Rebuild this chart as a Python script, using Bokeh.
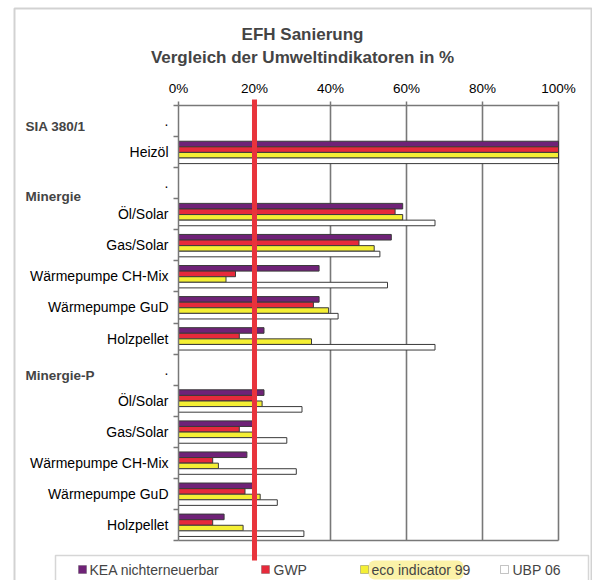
from bokeh.plotting import figure
from bokeh.models import Range1d, FixedTicker, Label, BoxAnnotation
from bokeh.embed import file_html
from bokeh.resources import INLINE

# ---------------- data ----------------
rows = [".", "Heizöl", ".", "Öl/Solar", "Gas/Solar", "Wärmepumpe CH-Mix",
        "Wärmepumpe GuD", "Holzpellet", ".", "Öl/Solar", "Gas/Solar",
        "Wärmepumpe CH-Mix", "Wärmepumpe GuD", "Holzpellet"]
headers = ["SIA 380/1", "Minergie", "Minergie-P"]
series_names = ["KEA nichterneuerbar", "GWP", "eco indicator 99", "UBP 06"]
kea = [None, 100, None, 59, 56, 37, 37, 22.5, None, 22.5, 19.5, 18, 19.5, 12]
gwp = [None, 100, None, 57, 47.5, 15, 35.5, 16, None, 19.5, 16, 9, 17.5, 9]
eco = [None, 100, None, 59, 51.5, 12.5, 39.5, 35, None, 22, 20, 10.5, 21.5, 17]
ubp = [None, 100, None, 67.5, 53, 55, 42, 67.5, None, 32.5, 28.5, 31, 26, 33]
x_ticks = [0, 20, 40, 60, 80, 100]
x_tick_labels = ["0%", "20%", "40%", "60%", "80%", "100%"]
target = 20

# ---------------- layout / style ----------------
W, H = 592, 580
FL, FR, FT, FB = 178, 558, 105, 540      # plot area in page pixels
NROW = len(rows)
XMIN, XMAX = x_ticks[0], x_ticks[-1]
YTOP, YBOT = -0.5, NROW - 0.5
FONT = "Liberation Sans"
GRID = "#787878"
EDGE = "#3a3a3a"
colors = ["#6f2277", "#e62a3b", "#f4ef34", "#ffffff"]
offsets = [-0.26, -0.08, 0.10, 0.28]
bar_h = 0.18


def fx(px):
    return XMIN + (px - FL) / (FR - FL) * (XMAX - XMIN)


def fy(py):
    return YTOP + (py - FT) / (FB - FT) * (YBOT - YTOP)


p = figure(width=W, height=H, output_backend="svg", toolbar_location=None,
           tools="", title=None,
           x_range=Range1d(fx(0), fx(W)), y_range=Range1d(fy(H), fy(0)),
           x_axis_location="above", y_axis_location="left",
           min_border=0, min_border_left=0, min_border_right=0,
           min_border_top=0, min_border_bottom=0)
p.background_fill_color = "white"
p.border_fill_color = "white"
p.outline_line_color = None
p.xgrid.visible = False
p.ygrid.visible = False

# x axis (top of plot area)
xa = p.xaxis[0]
xa.fixed_location = YTOP
xa.bounds = (XMIN, XMAX)
xa.ticker = FixedTicker(ticks=x_ticks, minor_ticks=[])
xa.major_label_overrides = {t: l for t, l in zip(x_ticks, x_tick_labels)}
xa.axis_line_color = GRID
xa.axis_line_width = 1.5
xa.major_tick_line_color = GRID
xa.major_tick_line_width = 1.5
xa.major_tick_out = 4
xa.major_tick_in = 0
xa.major_label_standoff = 6
xa.major_label_text_font = FONT
xa.major_label_text_font_size = "13.5px"
xa.major_label_text_color = "black"

# y axis (left of plot area)
ya = p.yaxis[0]
ya.fixed_location = XMIN
ya.bounds = (YTOP, YBOT)
ya.ticker = FixedTicker(ticks=list(range(NROW)),
                        minor_ticks=[i - 0.5 for i in range(NROW + 1)])
ya.major_label_overrides = {i: r for i, r in enumerate(rows)}
ya.axis_line_color = GRID
ya.axis_line_width = 1.5
ya.major_tick_line_color = None
ya.major_tick_out = 0
ya.major_tick_in = 0
ya.minor_tick_line_color = GRID
ya.minor_tick_line_width = 1.5
ya.minor_tick_out = 5
ya.minor_tick_in = 0
ya.major_label_standoff = 5
ya.major_label_text_font = FONT
ya.major_label_text_font_size = "14px"
ya.major_label_text_color = "black"

# grid lines and bottom edge of the plot area
gx = x_ticks[1:]
p.segment(x0=gx, y0=[YTOP] * len(gx), x1=gx, y1=[YBOT] * len(gx),
          line_color=GRID, line_width=1.6)
p.segment(x0=[XMIN], y0=[YBOT], x1=[XMAX], y1=[YBOT], line_color=GRID,
          line_width=1.6)

# bars
for vals, col, off in zip([kea, gwp, eco, ubp], colors, offsets):
    ys = [i + off for i, v in enumerate(vals) if v is not None]
    rs = [v for v in vals if v is not None]
    p.hbar(y=ys, left=XMIN, right=rs, height=bar_h, fill_color=col,
           line_color=EDGE, line_width=1)

# outer border of the chart
p.add_layout(BoxAnnotation(left=fx(14), right=fx(591), top=fy(8), bottom=fy(640),
                           fill_color=None, line_color="#6a6a6a", line_width=2))

# title
p.add_layout(Label(x=fx(302), y=fy(34), text="EFH Sanierung", text_font=FONT,
                   text_font_size="17px", text_font_style="bold",
                   text_align="center", text_baseline="middle"))
p.add_layout(Label(x=fx(302), y=fy(57), text="Vergleich der Umweltindikatoren in %",
                   text_font=FONT, text_font_size="17px", text_font_style="bold",
                   text_align="center", text_baseline="middle"))

# group headers
for txt, py in zip(headers, [126, 196, 375]):
    p.add_layout(Label(x=fx(25), y=fy(py), text=txt, text_font=FONT,
                       text_font_size="13.5px", text_font_style="bold",
                       text_align="left", text_baseline="middle"))

# legend frame
p.add_layout(BoxAnnotation(left=fx(55), right=fx(588), top=fy(555), bottom=fy(640),
                           fill_color="white", fill_alpha=1, line_color=GRID,
                           line_width=1.5))

# 20 % marker line
p.add_layout(BoxAnnotation(left=target - 0.66, right=target + 0.66, top=fy(99),
                           bottom=fy(560), fill_color="#e8343c", fill_alpha=1,
                           line_color=None))

# legend highlight behind eco indicator
p.add_layout(BoxAnnotation(left=fx(368), right=fx(463), top=fy(560), bottom=fy(579),
                           fill_color="#fbf2a8", fill_alpha=1, line_color=None,
                           border_radius=6))

sq_x = [78, 261, 360, 500]
txt_x = [89, 273, 371, 512]
for name, col, sx, tx in zip(series_names, colors, sq_x, txt_x):
    p.add_layout(BoxAnnotation(left=fx(sx), right=fx(sx + 8), top=fy(565),
                               bottom=fy(573), fill_color=col, fill_alpha=1,
                               line_color=EDGE, line_width=1))
    p.add_layout(Label(x=fx(tx), y=fy(569), text=name, text_font=FONT,
                       text_font_size="14px", text_align="left",
                       text_baseline="middle"))

open("out.html", "w").write(file_html(p, INLINE))
